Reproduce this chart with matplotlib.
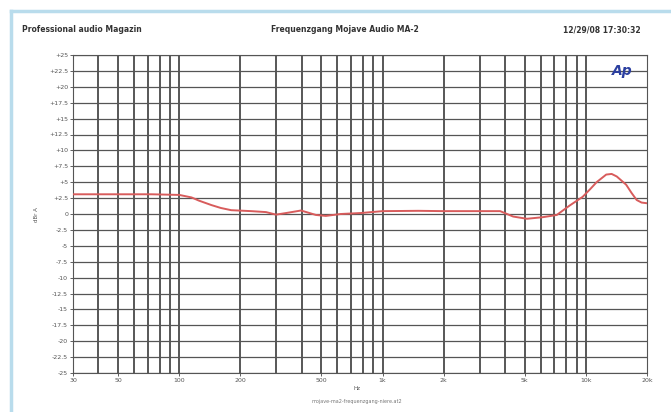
import matplotlib.pyplot as plt
import numpy as np
from matplotlib.lines import Line2D

# frequenzgang (Hz, dBr)
freq = [30, 52, 73, 100, 115, 125, 144, 160, 180, 226, 267, 299, 335, 397, 470, 526, 623, 780,
        1000, 1500, 2000, 3000, 3790, 4390, 5130, 6150, 7200, 8300, 9650, 10500, 11300, 12600,
        13400, 14200, 15800, 16800, 17800, 18800, 19900]
level = [3.1, 3.1, 3.1, 3.0, 2.6, 2.1, 1.4, 0.95, 0.6, 0.45, 0.3, -0.1, 0.15, 0.55, -0.15, -0.3, 0.0, 0.15,
         0.45, 0.5, 0.45, 0.45, 0.45, -0.4, -0.75, -0.5, -0.15, 1.3, 2.7, 3.9, 5.0, 6.2,
         6.3, 5.9, 4.6, 3.3, 2.2, 1.8, 1.7]

y_ticks = np.arange(-25, 25.1, 2.5)
y_labels = ['%+g' % v if v != 0 else '0' for v in y_ticks]
x_major = [30, 50, 100, 200, 500, 1000, 2000, 5000, 10000, 20000]
x_major_labels = ['30', '50', '100', '200', '500', '1k', '2k', '5k', '10k', '20k']
x_grid = [40, 50, 60, 70, 80, 90, 100, 200, 300, 400, 500, 600, 700, 800, 900,
          1000, 2000, 3000, 4000, 5000, 6000, 7000, 8000, 9000, 10000]

fig = plt.figure(figsize=(6.71, 4.12), dpi=100)

# hellblauer rahmen oben und links
fig.add_artist(Line2D([11 / 671, 11 / 671], [0, 1 - 11 / 412], color='#b9dcec', lw=2.5))
fig.add_artist(Line2D([11 / 671, 1], [1 - 11 / 412, 1 - 11 / 412], color='#b9dcec', lw=2.5))

ax = fig.add_axes([73 / 671, 1 - 373 / 412, (647 - 73) / 671, (373 - 55) / 412])
ax.set_xscale('log')
ax.set_xlim(30, 20000)
ax.set_ylim(-25, 25)

for f in x_grid:
    ax.axvline(f, color='#2a2a2a', lw=1.1, zorder=1)
for v in y_ticks:
    ax.axhline(v, color='#555555', lw=0.9, zorder=1)

ax.plot(freq, level, color='#d85c5c', lw=1.4, zorder=3, solid_joinstyle='round')

ax.set_yticks(y_ticks)
ax.set_yticklabels(y_labels, fontsize=4.5, color='#555555')
ax.set_xticks(x_major)
ax.set_xticklabels(x_major_labels, fontsize=4.5, color='#555555')
ax.minorticks_off()
ax.tick_params(length=2, width=0.6, color='#444444', pad=1.5)
for s in ax.spines.values():
    s.set_color('#555555')
    s.set_linewidth(0.8)

ax.text(0.975, 0.95, 'Ap', transform=ax.transAxes, ha='right', va='center',
        fontsize=10, fontweight='bold', style='italic', color='#2b3fa0', zorder=4)

fig.text(22 / 671, 1 - 30 / 412, 'Professional audio Magazin', fontsize=5.5,
         fontweight='bold', color='#333333', va='center', ha='left')
fig.text(345 / 671, 1 - 30 / 412, 'Frequenzgang Mojave Audio MA-2', fontsize=5.5,
         fontweight='bold', color='#333333', va='center', ha='center')
fig.text(641 / 671, 1 - 30 / 412, '12/29/08 17:30:32', fontsize=5.5,
         fontweight='bold', color='#333333', va='center', ha='right')
fig.text(36 / 671, 1 - 215 / 412, 'dBr A', fontsize=4, color='#555555',
         rotation=90, va='center', ha='center')
fig.text(357 / 671, 1 - 389 / 412, 'Hz', fontsize=4, color='#555555',
         va='center', ha='center')
fig.text(357 / 671, 1 - 401 / 412, 'mojave-ma2-frequenzgang-niere.at2', fontsize=3.5,
         color='#777777', va='center', ha='center')

fig.savefig('out.png', dpi=100)
